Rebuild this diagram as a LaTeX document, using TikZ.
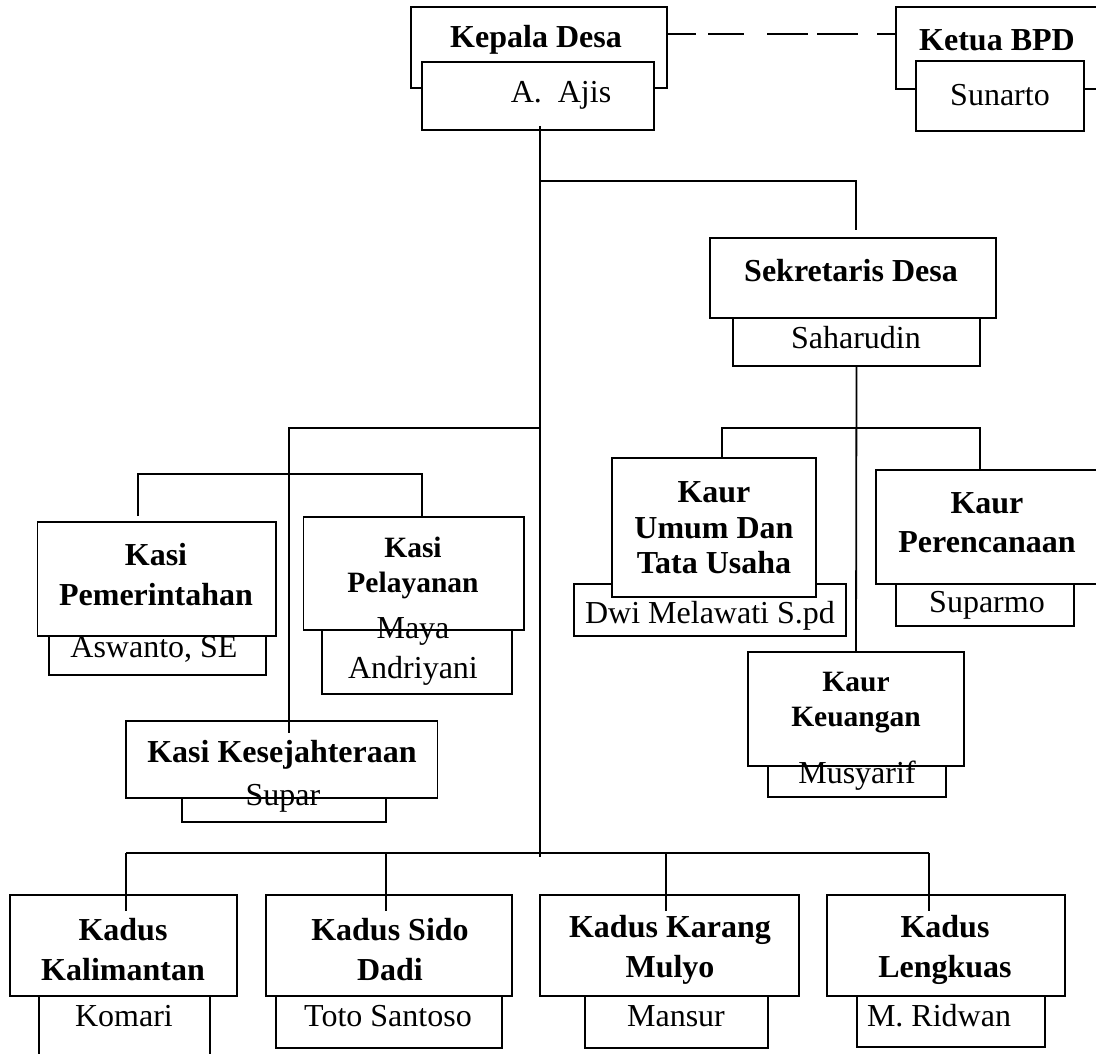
\documentclass[tikz,border=0pt]{standalone}
\usepackage{fontspec}
\setmainfont{Liberation Serif}
\begin{document}
\begin{tikzpicture}[x=1pt,y=-1pt,
  box/.style={draw, line width=1.8pt, fill=white, inner sep=0pt, outer sep=0pt, anchor=north west},
  conn/.style={line width=1.8pt},
  ttl/.style={font=\bfseries\fontsize{32}{40}\selectfont, align=center, inner sep=0pt},
  ttlsm/.style={font=\bfseries\fontsize{29.5}{35}\selectfont, align=center, inner sep=0pt},
  nm/.style={font=\fontsize{32}{40}\selectfont, align=center, inner sep=0pt}]
\useasboundingbox (0,0) rectangle (1096,1054);
\clip (0,0) rectangle (1096,1054);
% top
\node[box, minimum width=256pt, minimum height=81pt] (kdO) at (411,7) {};
\node[box, minimum width=232pt, minimum height=68pt] (kdI) at (422,62) {};
\node[box, minimum width=214pt, minimum height=82pt] (kbO) at (896,7) {};
\node[box, minimum width=168pt, minimum height=70pt] (kbI) at (916,61) {};
% sekretaris
\node[box, minimum width=247pt, minimum height=56pt] (sdN) at (733,310) {};
\node[box, minimum width=286pt, minimum height=80pt] (sdT) at (710,238) {};
% kaur
\node[box, minimum width=272pt, minimum height=52pt] (dwi) at (574,584) {};
\node[box, minimum width=204pt, minimum height=139pt] (kum) at (612,458) {};
\node[box, minimum width=178pt, minimum height=51pt] (sup) at (896,575) {};
\node[box, minimum width=234pt, minimum height=114pt] (kpr) at (876,470) {};
\node[box, minimum width=178pt, minimum height=42pt] (mus) at (768,755) {};
\node[box, minimum width=216pt, minimum height=114pt] (keu) at (748,652) {};
% kasi
\node[box, minimum width=217pt, minimum height=50pt] (asw) at (49,625) {};
\node[box, minimum width=238.5pt, minimum height=114pt] (pem) at (37.5,522) {};
\node[box, minimum width=190pt, minimum height=74pt] (mya) at (322,620) {};
\node[box, minimum width=220.5pt, minimum height=113pt] (pel) at (303.5,517) {};
\node[box, minimum width=204pt, minimum height=32pt] (spr) at (182,790) {};
\node[box, minimum width=311.5pt, minimum height=77pt] (kes) at (126,721) {};
% kadus
\node[box, minimum width=171pt, minimum height=90pt] (kom) at (39,990) {};
\node[box, minimum width=227pt, minimum height=101pt] (kal) at (10,895) {};
\node[box, minimum width=226pt, minimum height=58pt] (tot) at (276,990) {};
\node[box, minimum width=246pt, minimum height=101pt] (sid) at (266,895) {};
\node[box, minimum width=183pt, minimum height=58pt] (man) at (585,990) {};
\node[box, minimum width=259pt, minimum height=101pt] (kar) at (540,895) {};
\node[box, minimum width=188pt, minimum height=57pt] (rid) at (857,990) {};
\node[box, minimum width=238pt, minimum height=101pt] (len) at (827,895) {};
% junction coordinates
\coordinate (mtop) at (540,126);
\coordinate (mbot) at (540,857);
\coordinate (j1) at (540,181);
\coordinate (j1r) at (856,181);
\coordinate (sdIn) at (856,230);
\coordinate (kj) at (722,428);
\coordinate (kjr) at (980,428);
\coordinate (lj) at (540,428);
\coordinate (ljl) at (289,428);
\coordinate (ksIn) at (289,733);
\coordinate (pj) at (138,474);
\coordinate (pjr) at (422,474);
\coordinate (pemIn) at (138,516);
\coordinate (bj) at (126,853);
\coordinate (bjr) at (929,853);
% connectors
\draw[conn] (mtop) -- (mbot);
\draw[conn] (j1) -- (j1r) -- (sdIn);
\draw[conn] (sdN.south) -- (keu.north);
\draw[conn] (kum.north -| kj) -- (kj) -- (kjr) -- (kpr.north -| kjr);
\draw[conn] (lj) -- (ljl) -- (ksIn);
\draw[conn] (pemIn) -- (pj) -- (pjr) -- (pel.north -| pjr);
\draw[conn] (bj) -- (bjr);
\draw[conn] (bj) -- (126,911);
\draw[conn] (386,853) -- (386,911);
\draw[conn] (666,853) -- (666,911);
\draw[conn] (bjr) -- (929,911);
\draw[conn, dash pattern=on 29pt off 12pt on 36pt off 23pt on 41pt off 9pt on 41pt off 19pt on 30pt off 0pt] (kdO.east |- 0,34) -- (kbO.west |- 0,34);
% texts
\node[ttl] (tKd) at (536,40) {Kepala Desa};
\node[nm] (tAj) at (561,95) {A.\enspace Ajis};
\node[ttl] (tKb) at (997,40) {Ketua BPD};
\node[nm] (tSu) at (1000,95) {Sunarto};
\node[ttl] (tSd) at (851,271) {Sekretaris Desa};
\node[nm] (tSh) at (856,338) {Saharudin};
\node[ttl, font=\bfseries\fontsize{32}{35.5}\selectfont] (tKu) at (714,528) {Kaur\\Umum Dan\\Tata Usaha};
\node[nm] (tDw) at (710,616) {Dwi Melawati S.pd};
\node[ttl, font=\bfseries\fontsize{32}{39}\selectfont] (tKp) at (987,523) {Kaur\\Perencanaan};
\node[nm] (tSp) at (987,605) {Suparmo};
\node[ttlsm] (tKk) at (856,703) {Kaur\\Keuangan};
\node[nm] (tMu) at (857,776) {Musyarif};
\node[ttl] (tPe) at (156,575) {Kasi\\Pemerintahan};
\node[nm] (tAs) at (154,649) {Aswanto, SE};
\node[ttlsm] (tPl) at (413,568) {Kasi\\Pelayanan};
\node[nm] (tMa) at (413,651) {Maya\\Andriyani};
\node[ttl] (tKs) at (282,755) {Kasi Kesejahteraan};
\node[nm] (tSr) at (283,798) {Supar};
\node[ttl] (tKal) at (123,950) {Kadus\\Kalimantan};
\node[ttl] (tSid) at (390,950) {Kadus Sido\\Dadi};
\node[ttl] (tKar) at (670,950) {Kadus Karang\\Mulyo};
\node[ttl] (tLen) at (945,950) {Kadus\\Lengkuas};
\node[nm] (tKom) at (124,1016) {Komari};
\node[nm] (tTot) at (388,1016) {Toto Santoso};
\node[nm] (tMan) at (676,1016) {Mansur};
\node[nm] (tRid) at (939,1016) {M. Ridwan};
\end{tikzpicture}
\end{document}
